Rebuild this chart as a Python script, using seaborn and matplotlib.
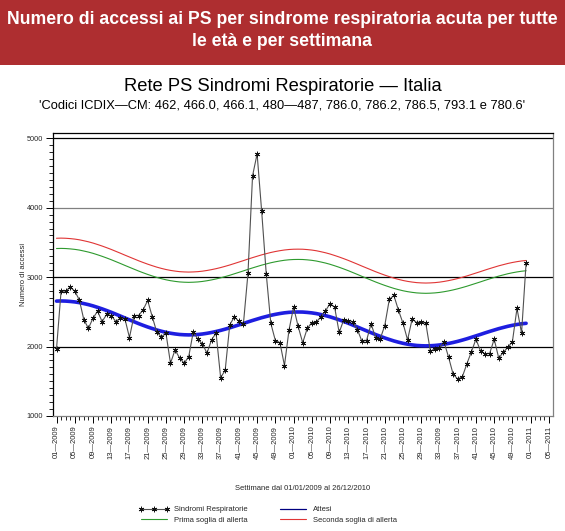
import numpy as np
import pandas as pd
import matplotlib
matplotlib.use("Agg")
import matplotlib.pyplot as plt
from matplotlib.patches import Rectangle
from matplotlib.lines import Line2D
import seaborn as sns

# ---------------- data ----------------
sindromi = [1967, 2798, 2798, 2856, 2798, 2674, 2385, 2264, 2408, 2510,
            2361, 2462, 2447, 2361, 2408, 2400, 2130, 2447, 2447, 2530,
            2664, 2430, 2207, 2140, 2195, 1760, 1952, 1835, 1760, 1856,
            2214, 2105, 2039, 1905, 2097, 2195, 1552, 1660, 2313, 2428,
            2363, 2330, 3058, 4460, 4775, 3948, 3049, 2336, 2087, 2058,
            1726, 2241, 2567, 2290, 2055, 2262, 2346, 2356, 2430, 2515,
            2620, 2567, 2203, 2385, 2375, 2358, 2243, 2075, 2087, 2328,
            2125, 2111, 2303, 2680, 2736, 2524, 2336, 2097, 2395, 2346,
            2356, 2336, 1935, 1967, 1981, 2067, 1846, 1600, 1534, 1562,
            1750, 1925, 2106, 1938, 1894, 1900, 2106, 1834, 1918, 1990,
            2072, 2550, 2195, 3205]

attesi = [2655, 2657, 2655, 2650, 2643, 2633, 2619, 2604, 2586, 2565,
          2543, 2519, 2494, 2467, 2440, 2412, 2385, 2358, 2331, 2306,
          2282, 2260, 2239, 2221, 2205, 2192, 2182, 2174, 2170, 2168,
          2170, 2174, 2181, 2191, 2203, 2217, 2233, 2251, 2270, 2291,
          2312, 2333, 2355, 2376, 2396, 2416, 2433, 2450, 2464, 2476,
          2486, 2493, 2497, 2498, 2497, 2492, 2485, 2475, 2461, 2446,
          2428, 2407, 2385, 2361, 2336, 2309, 2282, 2254, 2227, 2200,
          2173, 2148, 2124, 2102, 2081, 2063, 2047, 2034, 2024, 2016,
          2012, 2010, 2012, 2016, 2023, 2033, 2045, 2059, 2075, 2093,
          2112, 2133, 2154, 2175, 2197, 2218, 2238, 2258, 2275, 2292,
          2306, 2318, 2328, 2335]

prima_soglia = [3412, 3414, 3412, 3407, 3400, 3390, 3376, 3361, 3343, 3322,
                3300, 3276, 3251, 3224, 3197, 3169, 3142, 3115, 3088, 3063,
                3039, 3017, 2996, 2978, 2962, 2949, 2939, 2931, 2927, 2925,
                2927, 2931, 2938, 2948, 2960, 2974, 2990, 3008, 3027, 3048,
                3069, 3090, 3112, 3133, 3153, 3173, 3190, 3207, 3221, 3233,
                3243, 3250, 3254, 3255, 3254, 3249, 3242, 3232, 3218, 3203,
                3185, 3164, 3142, 3118, 3093, 3066, 3039, 3011, 2984, 2957,
                2930, 2905, 2881, 2859, 2838, 2820, 2804, 2791, 2781, 2773,
                2769, 2767, 2769, 2773, 2780, 2790, 2802, 2816, 2832, 2850,
                2869, 2890, 2911, 2932, 2954, 2975, 2995, 3015, 3032, 3049,
                3063, 3075, 3085, 3092]

seconda_soglia = [3560, 3562, 3560, 3555, 3548, 3538, 3524, 3509, 3491, 3470,
                  3448, 3424, 3399, 3372, 3345, 3317, 3290, 3263, 3236, 3211,
                  3187, 3165, 3144, 3126, 3110, 3097, 3087, 3079, 3075, 3073,
                  3075, 3079, 3086, 3096, 3108, 3122, 3138, 3156, 3175, 3196,
                  3217, 3238, 3260, 3281, 3301, 3321, 3338, 3355, 3369, 3381,
                  3391, 3398, 3402, 3403, 3402, 3397, 3390, 3380, 3366, 3351,
                  3333, 3312, 3290, 3266, 3241, 3214, 3187, 3159, 3132, 3105,
                  3078, 3053, 3029, 3007, 2986, 2968, 2952, 2939, 2929, 2921,
                  2917, 2915, 2917, 2921, 2928, 2938, 2950, 2964, 2980, 2998,
                  3017, 3038, 3059, 3080, 3102, 3123, 3143, 3163, 3180, 3197,
                  3211, 3223, 3233, 3240]

tick_labels = ["01\u20142009", "05\u20142009", "09\u20142009", "13\u20142009", "17\u20142009",
               "21\u20142009", "25\u20142009", "29\u20142009", "33\u20142009", "37\u20142009",
               "41\u20142009", "45\u20142009", "49\u20142009", "01\u20142010", "05\u20142010",
               "09\u20142010", "13\u20142010", "17\u20142010", "21\u20142010", "25\u20142010",
               "29\u20142010", "33\u20142009", "37\u20142010", "41\u20142010", "45\u20142010",
               "49\u20142010", "01\u20142011", "05\u20142011"]
y_ticks = [1000, 2000, 3000, 4000, 5000]

weeks = np.arange(len(sindromi))
df = pd.DataFrame({"settimana": weeks, "Sindromi": sindromi, "Attesi": attesi,
                   "Prima": prima_soglia, "Seconda": seconda_soglia})

# ---------------- style ----------------
sns.set_theme(style="white")
plt.rcParams["font.family"] = ["Liberation Sans", "DejaVu Sans"]

W, H = 565, 531
fig = plt.figure(figsize=(W / 100, H / 100), dpi=100)

# header banner
fig.add_artist(Rectangle((0, 1 - 65 / H), 1, 65 / H, transform=fig.transFigure,
                         facecolor="#AE2E30", edgecolor="none"))
fig.text(0.5, 1 - 19 / H, "Numero di accessi ai PS per sindrome respiratoria acuta per tutte",
         ha="center", va="center", color="white", fontsize=12.7, fontweight="bold")
fig.text(0.5, 1 - 42 / H, "le età e per settimana",
         ha="center", va="center", color="white", fontsize=12.7, fontweight="bold")

fig.text(0.5, 1 - 87 / H, "Rete PS Sindromi Respiratorie \u2014 Italia",
         ha="center", va="center", color="black", fontsize=13.2)
fig.text(0.5, 1 - 106 / H,
         "'Codici ICDIX\u2014CM: 462, 466.0, 466.1, 480\u2014487, 786.0, 786.2, 786.5, 793.1 e 780.6'",
         ha="center", va="center", color="black", fontsize=9.3)

ax = fig.add_axes([53 / W, 1 - 416 / H, 500 / W, 283 / H])
ax.set_facecolor("white")

# grid lines
for yv, col in zip([2000, 3000, 4000, 5000], ["black", "black", "#808080", "black"]):
    ax.axhline(yv, color=col, lw=0.9, zorder=1)

sns.lineplot(data=df, x="settimana", y="Prima", ax=ax, color="#2E9A2E", lw=0.8, zorder=2)
sns.lineplot(data=df, x="settimana", y="Seconda", ax=ax, color="#E03535", lw=0.8, zorder=2)
sns.lineplot(data=df, x="settimana", y="Attesi", ax=ax, color="#1E1EE0", lw=2.6, zorder=3)
sns.lineplot(data=df, x="settimana", y="Sindromi", ax=ax, color="#505050", lw=0.8,
             marker=(6, 2, 0), markersize=4, markeredgecolor="#111111", markeredgewidth=0.6,
             zorder=4)

ax.set_xlim(-0.77, 108.9)
ax.set_ylim(1000, 5076)

ax.set_xticks(range(0, 4 * len(tick_labels), 4))
ax.set_xticklabels(tick_labels, rotation=90, fontsize=5.5)
ax.set_xticks(range(0, 4 * len(tick_labels) - 3), minor=True)
ax.set_yticks(y_ticks)
ax.set_yticklabels([str(v) for v in y_ticks], fontsize=5.3)
ax.set_yticks(range(1000, 5001, 100), minor=True)
ax.tick_params(axis="both", which="major", direction="out", length=5, width=0.7,
               color="black", pad=2, bottom=True, left=True)
ax.tick_params(axis="both", which="minor", direction="out", length=3, width=0.6,
               color="black", bottom=True, left=True)

for side in ["top", "left"]:
    ax.spines[side].set_color("black")
    ax.spines[side].set_linewidth(0.9)
for side in ["right", "bottom"]:
    ax.spines[side].set_color("#808080")
    ax.spines[side].set_linewidth(0.9)

ax.set_xlabel("")
ax.set_ylabel("Numero di accessi", fontsize=5.5)
ax.yaxis.set_label_coords(-(53 - 27) / 500, 0.5)
fig.text(303 / W, 1 - 488 / H, "Settimane dal 01/01/2009 al 26/12/2010",
         ha="center", va="center", fontsize=5.5)

handles = [
    Line2D([0, 0.5, 1], [0, 0, 0], color="#505050", lw=0.8, marker=(6, 2, 0), markersize=4,
           markeredgecolor="#111111", markeredgewidth=0.6),
    Line2D([], [], color="#2E9A2E", lw=0.8),
    Line2D([], [], color="#000080", lw=0.9),
    Line2D([], [], color="#E03535", lw=0.8),
]
labels = ["Sindromi Respiratorie", "Prima soglia di allerta", "Attesi",
          "Seconda soglia di allerta"]
leg = fig.legend(handles, labels, ncol=2, frameon=False, fontsize=5.5,
                 loc="center left", bbox_to_anchor=(132 / W, 1 - 515 / H),
                 handlelength=4.0, columnspacing=4.0, handletextpad=0.6,
                 labelspacing=0.45, numpoints=3)

fig.savefig("out.png", dpi=100)
